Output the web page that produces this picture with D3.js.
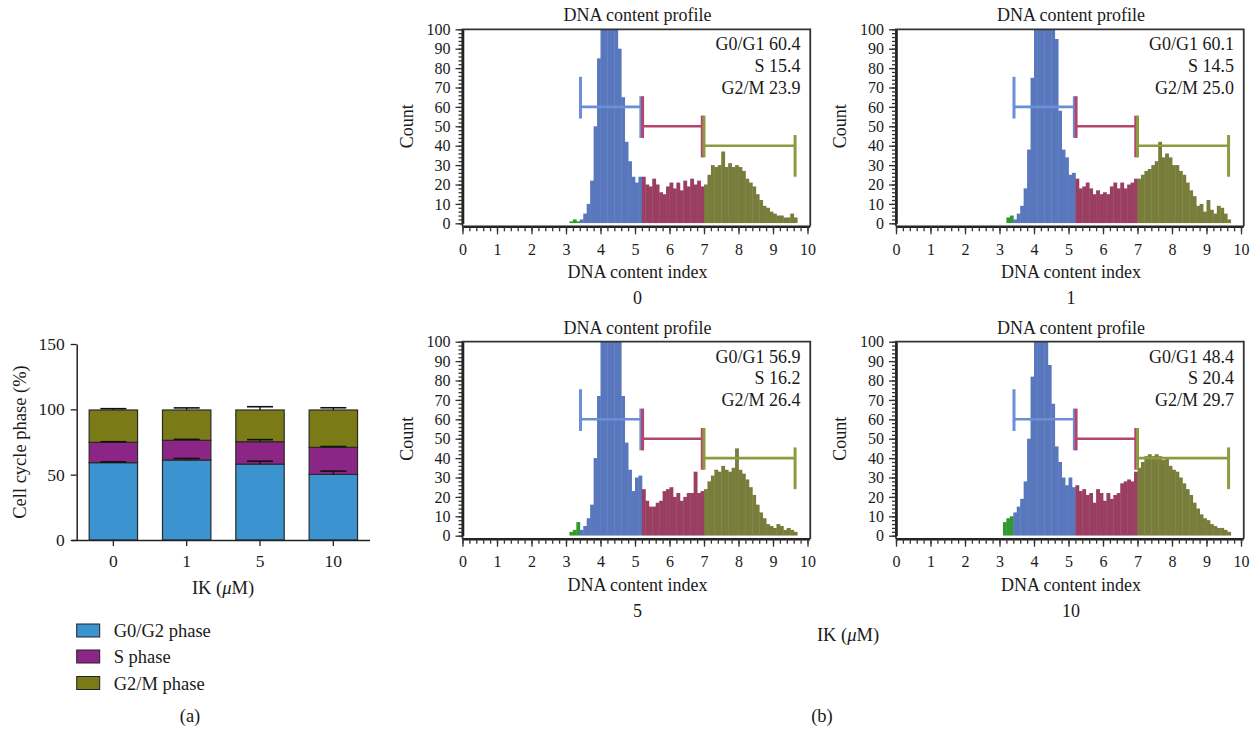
<!DOCTYPE html>
<html>
<head>
<meta charset="utf-8">
<script src="https://cdn.jsdelivr.net/npm/d3@7"></script>
<style>
  body { margin: 0; background: #fff; }
  svg { display: block; }
</style>
</head>
<body>
<svg id="chart" width="1258" height="729"></svg>
<script>

/* Data (a) : cell cycle phases, stacked
-------------------------------------------------------------------------------------------------*/
const doses = ["0", "1", "5", "10"]
const phaseNames = ["G0/G2 phase", "S phase", "G2/M phase"]
const g0Mean = [59.2, 61.2, 58.1, 50.2]
const sMean = [15.5, 15.1, 17.1, 20.7]
const g2mMean = [24.8, 23.2, 24.3, 28.6]
const g0Err = [0.6, 1.2, 2.2, 2.5]
const sErr = [0.5, 0.7, 1.6, 0.6]
const g2mErr = [1.0, 1.6, 2.5, 1.7]
const barTicks = [0, 50, 100, 150]

/* Data (b) : DNA content histograms (bins of 0.1 from 3.1 to 9.6)
-------------------------------------------------------------------------------------------------*/
const binStart = d3.range(31, 97).map(i => i / 10)
const phaseLimits = [3.4, 5.2, 7.0]

const count0 = [1, 2, 1,
  2, 5, 10, 22, 50, 85, 105, 120, 120, 120, 115, 90, 65, 42, 32, 24, 21, 24,
  24, 20, 19, 23, 20, 16, 15, 19, 21, 18, 21, 17, 22, 19, 23, 20, 22, 19,
  20, 25, 30, 29, 30, 37, 29, 31, 29, 30, 29, 27, 23, 21, 19, 15, 12, 9, 8, 6, 5, 4, 4, 3, 3, 5, 3]
const count1 = [0, 3, 4,
  2, 5, 9, 18, 38, 75, 105, 120, 120, 120, 120, 110, 95, 58, 38, 34, 25, 26,
  23, 18, 19, 21, 18, 15, 17, 15, 16, 15, 19, 21, 18, 21, 18, 20, 21, 23,
  23, 25, 27, 28, 30, 32, 42, 34, 36, 34, 30, 30, 27, 25, 21, 17, 14, 9, 10, 6, 12, 7, 5, 9, 8, 5, 2]
const count5 = [2, 3, 7,
  3, 5, 9, 16, 40, 72, 100, 120, 120, 120, 120, 100, 72, 48, 34, 23, 30, 31,
  24, 18, 15, 15, 17, 18, 23, 24, 25, 20, 22, 18, 20, 22, 22, 33, 22, 23,
  24, 28, 31, 34, 33, 36, 34, 33, 35, 45, 34, 32, 29, 25, 21, 16, 12, 9, 6, 5, 4, 6, 5, 3, 4, 3, 2]
const count10 = [7, 9, 10,
  12, 15, 19, 28, 50, 82, 100, 120, 120, 120, 88, 68, 46, 38, 30, 26, 30, 25,
  26, 23, 24, 21, 22, 17, 24, 22, 18, 22, 19, 21, 22, 27, 28, 29, 28, 33,
  35, 38, 41, 42, 41, 42, 41, 39, 40, 36, 34, 33, 30, 27, 24, 21, 17, 14, 11, 9, 8, 6, 5, 4, 4, 3, 2]

const g0Pct = [60.4, 60.1, 56.9, 48.4]
const sPct = [15.4, 14.5, 16.2, 20.4]
const g2mPct = [23.9, 25.0, 26.4, 29.7]

// marqueurs de fenêtres (x début, x fin, niveau)
const gateFrom = [3.42, 5.22, 7.0]
const gateTo = [5.17, 6.95, 9.64]
const gateLevel = [60, 50, 40]

const FONT = '"Liberation Serif", "Times New Roman", serif'
const svg = d3.select("#chart")

/* Graph (a)
-------------------------------------------------------------------------------------------------*/
const barColors = ["#3b93d0", "#8c2686", "#7a7a17"]

const xBar = d3.scaleBand().domain(doses).range([76.7, 370]).paddingInner(0.34).paddingOuter(0.17)
const yBar = d3.scaleLinear().domain([0, 150]).range([540, 344])

const stacked = doses.map((d, i) => {
  const vals = [g0Mean[i], sMean[i], g2mMean[i]]
  const errs = [g0Err[i], sErr[i], g2mErr[i]]
  let acc = 0
  return vals.map((v, k) => {
    const seg = {dose: d, k, y0: acc, y1: acc + v, err: errs[k]}
    acc += v
    return seg
  })
}).flat()

const ga = svg.append("g")

ga.selectAll("rect.seg")
  .data(stacked)
  .enter()
  .append("rect")
  .attr("class", "seg")
  .attr("x", d => xBar(d.dose))
  .attr("width", xBar.bandwidth())
  .attr("y", d => yBar(d.y1))
  .attr("height", d => yBar(d.y0) - yBar(d.y1))
  .style("fill", d => barColors[d.k])
  .style("stroke", "#2a2a2a")
  .style("stroke-width", 1.2)

// barres d'erreur (vers le haut)
const errG = ga.selectAll("g.err").data(stacked).enter().append("g")
errG.append("line")
  .attr("x1", d => xBar(d.dose) + xBar.bandwidth() / 2)
  .attr("x2", d => xBar(d.dose) + xBar.bandwidth() / 2)
  .attr("y1", d => yBar(d.y1))
  .attr("y2", d => yBar(d.y1 + d.err))
  .style("stroke", "#111").style("stroke-width", 1.3)
errG.append("line")
  .attr("x1", d => xBar(d.dose) + xBar.bandwidth() / 2 - 13)
  .attr("x2", d => xBar(d.dose) + xBar.bandwidth() / 2 + 13)
  .attr("y1", d => yBar(d.y1 + d.err))
  .attr("y2", d => yBar(d.y1 + d.err))
  .style("stroke", "#111").style("stroke-width", 1.6)

// axes
const yAxisA = ga.append("g")
  .attr("transform", "translate(76.7,0)")
  .call(d3.axisLeft(yBar).tickValues(barTicks).tickSize(6).tickSizeOuter(0))
yAxisA.selectAll("text").style("font-size", "17.5px").attr("dx", "-3px")

const xAxisA = ga.append("g")
  .attr("transform", "translate(0,540)")
  .call(d3.axisBottom(xBar).tickSize(6).tickSizeOuter(0))
xAxisA.selectAll("text").style("font-size", "17.5px").attr("dy", "1.05em")
xAxisA.select(".domain").attr("d", "M71.7,0.5H370")
ga.selectAll(".domain").style("stroke", "#222").style("stroke-width", 1.5)
ga.selectAll(".tick line").style("stroke", "#222").style("stroke-width", 1.3)

ga.append("text")
  .attr("transform", "translate(26,442) rotate(-90)")
  .style("text-anchor", "middle")
  .style("font-size", "18.5px")
  .text("Cell cycle phase (%)")

const ikA = ga.append("text")
  .attr("x", 223).attr("y", 594)
  .style("text-anchor", "middle")
  .style("font-size", "18.5px")
ikA.append("tspan").text("IK (")
ikA.append("tspan").style("font-style", "italic").text("μ")
ikA.append("tspan").text("M)")

// légende
const legend = ga.selectAll("g.leg").data(phaseNames).enter().append("g")
  .attr("transform", (d, i) => `translate(76.7,${[631, 657, 683.5][i]})`)
legend.append("rect")
  .attr("x", 0).attr("y", -7).attr("width", 23).attr("height", 13)
  .style("fill", (d, i) => barColors[i])
  .style("stroke", "#222").style("stroke-width", 1)
legend.append("text")
  .attr("x", 37).attr("y", 6)
  .style("font-size", "18.5px")
  .text(d => d)

ga.append("text").attr("x", 190).attr("y", 722).style("text-anchor", "middle").style("font-size", "18.5px").text("(a)")

/* Graph (b) : histogrammes
-------------------------------------------------------------------------------------------------*/
const fillColors = ["#2f9a2f", "#5877bd", "#9a3e62", "#787d3b"]
const gateColors = ["#6a8fd5", "#b4456f", "#8c9a40"]

const panels = [
  {dose: "0", counts: count0, i: 0, left: 462.5, top: 29.3},
  {dose: "1", counts: count1, i: 1, left: 896, top: 29.3},
  {dose: "5", counts: count5, i: 2, left: 462.5, top: 341.7},
  {dose: "10", counts: count10, i: 3, left: 896, top: 341.7}
]

const phaseOf = v => v < phaseLimits[0] ? 0 : v < phaseLimits[1] - 1e-9 ? 1 : v < phaseLimits[2] - 1e-9 ? 2 : 3

panels.forEach(p => {

  const g = svg.append("g").attr("transform", `translate(${p.left},${p.top})`)
  const x = d3.scaleLinear().domain([0, 10]).range([0, 345])
  const y = d3.scaleLinear().domain([0, 100]).range([194, 0])
  const fw = x(10.08)

  g.append("clipPath").attr("id", "clip" + p.i)
    .append("rect").attr("x", 0).attr("y", 0).attr("width", fw).attr("height", y(0))

  const bins = binStart.map((b, k) => ({x: b, c: p.counts[k]}))

  g.append("g")
    .attr("clip-path", `url(#clip${p.i})`)
    .selectAll("rect")
    .data(bins)
    .enter()
    .append("rect")
    .attr("x", d => x(d.x))
    .attr("width", d => x(d.x + 0.1) - x(d.x) + 0.4)
    .attr("y", d => y(d.c))
    .attr("height", d => y(0) - y(d.c))
    .style("fill", d => fillColors[phaseOf(d.x + 0.001)])

  // cadre
  g.append("path")
    .attr("d", `M0,${y(0) + 3}V0H${fw}V${y(0) + 3}`)
    .style("fill", "none").style("stroke", "#333").style("stroke-width", 1.8)

  // marqueurs de fenêtres
  gateFrom.forEach((gx, k) => {
    const lv = gateLevel[k]
    const gg = g.append("g").style("stroke", gateColors[k]).style("stroke-width", 3)
    gg.append("line").attr("x1", x(gx)).attr("x2", x(gateTo[k])).attr("y1", y(lv)).attr("y2", y(lv)).style("stroke-width", 2.6)
    gg.append("line").attr("x1", x(gx)).attr("x2", x(gx)).attr("y1", y(lv + 15.5)).attr("y2", y(lv - 6))
    gg.append("line").attr("x1", x(gateTo[k])).attr("x2", x(gateTo[k])).attr("y1", y(lv + 5.5)).attr("y2", y(lv - 16))
  })

  // axe Y
  const ya = g.append("g")
    .call(d3.axisLeft(y).tickValues(d3.range(0, 101, 10)).tickSize(7).tickSizeOuter(0))
  ya.selectAll("text").style("font-size", "16px").attr("dx", "-2px")
  g.append("g")
    .call(d3.axisLeft(y).tickValues(d3.range(0, 101, 2)).tickSize(4).tickFormat(""))
    .select(".domain").remove()

  // axe X
  const xa = g.append("g")
    .attr("transform", `translate(0,${y(0) + 3})`)
    .call(d3.axisBottom(x).ticks(10).tickSize(8).tickSizeOuter(0))
  xa.selectAll("text").style("font-size", "16px").attr("dy", "1.1em")
  xa.select(".domain").attr("d", `M0,0.5H${fw}`)
  g.append("g")
    .attr("transform", `translate(0,${y(0) + 3})`)
    .call(d3.axisBottom(x).tickValues(d3.range(0, 51).map(v => v / 5)).tickSize(5).tickFormat(""))
    .select(".domain").remove()

  g.selectAll(".domain").style("stroke", "#222").style("stroke-width", 2.6)
  g.selectAll(".tick line").style("stroke", "#333").style("stroke-width", 1.3)

  // textes
  g.append("text").attr("x", 175).attr("y", -8)
    .style("text-anchor", "middle").style("font-size", "18px").text("DNA content profile")
  g.append("text").attr("x", 175).attr("y", 249)
    .style("text-anchor", "middle").style("font-size", "18px").text("DNA content index")
  g.append("text").attr("x", 175).attr("y", 275)
    .style("text-anchor", "middle").style("font-size", "18px").text(p.dose)
  g.append("text")
    .attr("transform", "translate(-50,97) rotate(-90)")
    .style("text-anchor", "middle").style("font-size", "18px").text("Count")

  const notes = [`G0/G1 ${g0Pct[p.i].toFixed(1)}`, `S ${sPct[p.i].toFixed(1)}`, `G2/M ${g2mPct[p.i].toFixed(1)}`]
  g.selectAll("text.note").data(notes).enter().append("text")
    .attr("class", "note")
    .attr("x", 338).attr("y", (d, k) => 21 + k * 21.7)
    .style("text-anchor", "end").style("font-size", "18px").style("fill", "#222")
    .text(d => d)
})

const ikB = svg.append("text")
  .attr("x", 848).attr("y", 641)
  .style("text-anchor", "middle")
  .style("font-size", "18.5px")
ikB.append("tspan").text("IK (")
ikB.append("tspan").style("font-style", "italic").text("μ")
ikB.append("tspan").text("M)")

svg.append("text").attr("x", 822).attr("y", 722).style("text-anchor", "middle").style("font-size", "18.5px").text("(b)")

// police partout (les axes d3 imposent sans-serif sinon)
svg.selectAll("g").attr("font-family", null)
svg.selectAll("text").style("font-family", FONT).style("fill", "#1a1a1a")

</script>
</body>
</html>
